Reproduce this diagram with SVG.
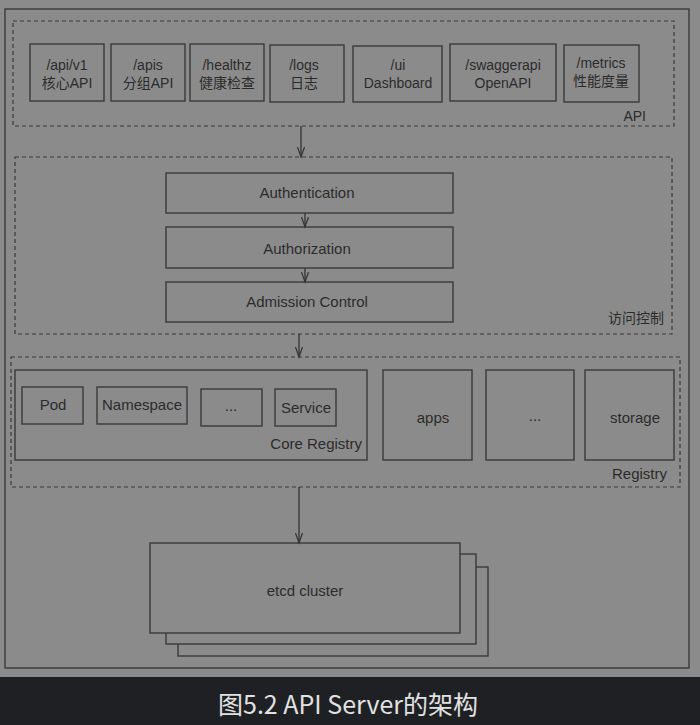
<svg xmlns="http://www.w3.org/2000/svg" width="700" height="725" viewBox="0 0 700 725">
<defs>
<marker id="arr" markerUnits="userSpaceOnUse" markerWidth="12" markerHeight="10" refX="10" refY="4" orient="auto">
<path d="M0,0.5 L10,4 L0,7.5" fill="none" stroke="#333" stroke-width="1.2"/>
</marker>
</defs>
<style>
.box{fill:none;stroke:#3a3a3a;stroke-width:1.4}
.dash{fill:none;stroke:#3a3a3a;stroke-width:1.2;stroke-dasharray:4 3}
.t{font-family:"Liberation Sans","Noto Sans CJK SC",sans-serif;font-size:15px;fill:#2b2b2b;text-anchor:middle}
.s{font-size:14px}
.r{text-anchor:end}
.conn{stroke:#333;stroke-width:1.3;fill:none;marker-end:url(#arr)}
</style>
<rect x="0" y="0" width="700" height="677" fill="#8b8b8b"/>
<rect x="0" y="677" width="700" height="48" fill="#1f2023"/>
<rect x="5" y="9" width="684" height="659" class="box"/>

<g id="api-group">
<rect x="13" y="21" width="661" height="105" class="dash"/>
<text x="646" y="121" class="t r s">API</text>
</g>
<g id="api-v1"><rect x="30" y="44" width="74" height="57" class="box"/><text x="67" y="70" class="t s">/api/v1</text><text x="67" y="88" class="t s">核心API</text></g>
<g id="apis"><rect x="111" y="44" width="74" height="57" class="box"/><text x="148" y="70" class="t s">/apis</text><text x="148" y="88" class="t s">分组API</text></g>
<g id="healthz"><rect x="190" y="44" width="74" height="57" class="box"/><text x="227" y="70" class="t s">/healthz</text><text x="227" y="88" class="t s">健康检查</text></g>
<g id="logs"><rect x="270" y="45" width="74" height="57" class="box"/><text x="304" y="70" class="t s">/logs</text><text x="304" y="88" class="t s">日志</text></g>
<g id="ui"><rect x="353" y="46" width="89" height="56" class="box"/><text x="398" y="70" class="t s">/ui</text><text x="398" y="88" class="t s">Dashboard</text></g>
<g id="swaggerapi"><rect x="450" y="44" width="106" height="57" class="box"/><text x="503" y="70" class="t s">/swaggerapi</text><text x="503" y="88" class="t s">OpenAPI</text></g>
<g id="metrics"><rect x="564" y="45" width="75" height="57" class="box"/><text x="601" y="68" class="t s">/metrics</text><text x="601" y="86" class="t s">性能度量</text></g>

<g id="access-group">
<rect x="15" y="157" width="657" height="177" class="dash"/>
<text x="664" y="323" class="t r s">访问控制</text>
</g>
<g id="authentication"><rect x="166" y="173" width="287" height="40" class="box"/><text x="307" y="198" class="t">Authentication</text></g>
<g id="authorization"><rect x="166" y="227" width="287" height="41" class="box"/><text x="307" y="254" class="t">Authorization</text></g>
<g id="admission"><rect x="166" y="282" width="287" height="40" class="box"/><text x="307" y="307" class="t">Admission Control</text></g>

<g id="registry-group">
<rect x="11" y="357" width="669" height="130" class="dash"/>
<text x="667" y="479" class="t r">Registry</text>
</g>
<g id="core-registry">
<rect x="15" y="370" width="352" height="90" class="box"/>
<text x="362" y="449" class="t r">Core Registry</text>
</g>
<g id="pod"><rect x="22" y="387" width="61" height="37" class="box"/><text x="53" y="410" class="t">Pod</text></g>
<g id="namespace"><rect x="97" y="387" width="90" height="37" class="box"/><text x="142" y="410" class="t">Namespace</text></g>
<g id="core-more"><rect x="201" y="389" width="61" height="37" class="box"/><text x="231" y="411" class="t">...</text></g>
<g id="service"><rect x="275" y="389" width="61" height="37" class="box"/><text x="306" y="413" class="t">Service</text></g>
<g id="apps"><rect x="383" y="370" width="89" height="90" class="box"/><text x="433" y="423" class="t">apps</text></g>
<g id="more"><rect x="486" y="370" width="88" height="90" class="box"/><text x="535" y="421" class="t">...</text></g>
<g id="storage"><rect x="585" y="370" width="89" height="90" class="box"/><text x="635" y="423" class="t">storage</text></g>

<g id="etcd">
<rect x="178" y="567" width="310" height="89" class="box" style="fill:#8b8b8b"/>
<rect x="166" y="554" width="310" height="90" class="box" style="fill:#8b8b8b"/>
<rect x="150" y="543" width="310" height="90" class="box" style="fill:#8b8b8b"/>
<text x="305" y="596" class="t">etcd cluster</text>
</g>

<g id="connectors">
<line x1="301" y1="126" x2="301" y2="157" class="conn"/>
<line x1="305" y1="213" x2="305" y2="227" class="conn"/>
<line x1="305" y1="268" x2="305" y2="282" class="conn"/>
<line x1="299" y1="334" x2="299" y2="357" class="conn"/>
<line x1="299" y1="487" x2="299" y2="543" class="conn"/>
</g>

<text x="348" y="714" font-family="Noto Sans CJK SC,sans-serif" font-size="25" fill="#e2e2e2" text-anchor="middle">图5.2 API Server的架构</text>
</svg>
